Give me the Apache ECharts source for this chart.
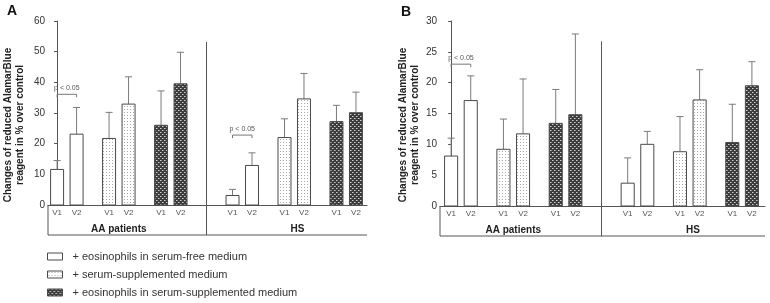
<!DOCTYPE html>
<html>
<head>
<meta charset="utf-8">
<script src="https://cdn.jsdelivr.net/npm/echarts@6/dist/echarts.min.js"></script>
<style>
  html, body { margin: 0; padding: 0; background: #fff; }
  #chart { width: 770px; height: 303px; }
</style>
</head>
<body>
<div id="chart"></div>
<script>
var treatments = [
  '+ eosinophils in serum-free medium',
  '+ serum-supplemented medium',
  '+ eosinophils in serum-supplemented medium'
];
var groups = ['AA patients', 'HS'];
var visits = ['V1', 'V2'];

// order of every array below: AA V1, AA V2, HS V1, HS V2
var meanA_free = [11.6, 23.1, 3.1, 12.9];
var errA_free = [2.9, 8.7, 2.0, 4.1];
var meanA_serum = [21.7, 32.9, 22.0, 34.6];
var errA_serum = [8.5, 8.9, 6.1, 8.3];
var meanA_eosSerum = [26.0, 39.5, 27.2, 30.1];
var errA_eosSerum = [11.2, 10.3, 5.3, 6.7];

var meanB_free = [8.1, 17.1, 3.7, 10.0];
var errB_free = [2.9, 4.0, 4.1, 2.1];
var meanB_serum = [9.2, 11.7, 8.8, 17.2];
var errB_serum = [4.9, 8.9, 5.7, 4.9];
var meanB_eosSerum = [13.4, 14.8, 10.3, 19.5];
var errB_eosSerum = [5.5, 13.1, 6.2, 3.9];

// "p < 0.05" brackets: [group index, height]
var pBracketsA = [[0, 36.1], [1, 22.8]];
var pBracketsB = [[0, 23.0]];

var yTicksA = { min: 0, max: 60, interval: 10 };
var yTicksB = { min: 0, max: 30, interval: 5 };

var FONT = 'Liberation Sans';
var dom = document.getElementById('chart');
var chart = echarts.init(dom, null, { renderer: 'canvas' });

function makePattern(kind) {
  var c = document.createElement('canvas');
  var ctx;
  if (kind === 'dots') {
    c.width = 3; c.height = 3;
    ctx = c.getContext('2d');
    ctx.fillStyle = '#ffffff'; ctx.fillRect(0, 0, 3, 3);
    ctx.fillStyle = '#a8a8a8'; ctx.fillRect(1, 1, 1, 1);
  } else {
    c.width = 4; c.height = 4;
    ctx = c.getContext('2d');
    ctx.fillStyle = '#3c3c3c'; ctx.fillRect(0, 0, 4, 4);
    ctx.fillStyle = '#d0d0d0';
    ctx.fillRect(0, 0, 1, 1); ctx.fillRect(2, 2, 1, 1);
    ctx.fillStyle = '#888888';
    ctx.fillRect(1, 0, 1, 1); ctx.fillRect(3, 2, 1, 1);
  }
  return { image: c, repeat: 'repeat' };
}

var fills = ['#ffffff', makePattern('dots'), makePattern('check')];

// slot on the hidden x scale: group, treatment, visit
function slotPos(t, k) {
  var g = Math.floor(k / 2), v = k % 2;
  return g * 27 + t * 8 + v * 3;
}

function barRenderer(fill) {
  return function (params, api) {
    var x = api.value(0), m = api.value(1), e = api.value(2);
    var base = api.coord([x, 0]);
    var top = api.coord([x, m]);
    var cap = api.coord([x, m + e]);
    var w = api.size([2, 0])[0];
    return {
      type: 'group',
      children: [
        { type: 'line', shape: { x1: top[0], y1: top[1], x2: cap[0], y2: cap[1] },
          style: { stroke: '#7a7a7a', lineWidth: 1 } },
        { type: 'line', shape: { x1: cap[0] - 3.5, y1: cap[1], x2: cap[0] + 3.5, y2: cap[1] },
          style: { stroke: '#7a7a7a', lineWidth: 1 } },
        { type: 'rect', shape: { x: base[0] - w / 2, y: top[1], width: w, height: base[1] - top[1] },
          style: { fill: fill, stroke: '#4a4a4a', lineWidth: 1 } },
        { type: 'text', style: { text: visits[params.dataIndex % 2], x: base[0], y: base[1] + 8,
          align: 'center', verticalAlign: 'middle', fontSize: 8, fontFamily: FONT, fill: '#555' } }
      ]
    };
  };
}

function frameRenderer(params, api) {
  var cs = params.coordSys;
  var zero = api.coord([0, 0])[1];
  var bottom = zero + 30;
  var sep = api.coord([api.value(0), api.value(1)]);
  var children = [
    { type: 'line', shape: { x1: sep[0], y1: sep[1], x2: sep[0], y2: bottom }, style: { stroke: '#555', lineWidth: 1 } },
    { type: 'line', shape: { x1: cs.x, y1: bottom, x2: cs.x + cs.width, y2: bottom }, style: { stroke: '#555', lineWidth: 1 } },
    { type: 'line', shape: { x1: cs.x, y1: zero, x2: cs.x, y2: bottom }, style: { stroke: '#555', lineWidth: 1 } }
  ];
  groups.forEach(function (g, i) {
    var cx = api.coord([i * 27 + (i === 0 ? 9.5 : 10), 0])[0];
    children.push({ type: 'text', style: { text: g, x: cx, y: zero + 24, align: 'center', verticalAlign: 'middle',
      fontSize: 10, fontWeight: 'bold', fontFamily: FONT, fill: '#222' } });
  });
  return { type: 'group', children: children };
}

function pRenderer(params, api) {
  var gi = api.value(0), h = api.value(1);
  var l = api.coord([gi * 27, h]);
  var r = api.coord([gi * 27 + 3, h]);
  var st = { stroke: '#777', lineWidth: 1 };
  return {
    type: 'group',
    children: [
      { type: 'line', shape: { x1: l[0], y1: l[1], x2: r[0], y2: r[1] }, style: st },
      { type: 'line', shape: { x1: l[0], y1: l[1], x2: l[0], y2: l[1] + 3 }, style: st },
      { type: 'line', shape: { x1: r[0], y1: r[1], x2: r[0], y2: r[1] + 3 }, style: st },
      { type: 'text', style: { text: 'p < 0.05', x: (l[0] + r[0]) / 2, y: l[1] - 6, align: 'center',
        verticalAlign: 'middle', fontSize: 7, fontFamily: FONT, fill: '#555' } }
    ]
  };
}

function barData(means, errs, t) {
  return means.map(function (m, k) { return [slotPos(t, k), m, errs[k]]; });
}

var panels = [
  { means: [meanA_free, meanA_serum, meanA_eosSerum], errs: [errA_free, errA_serum, errA_eosSerum],
    p: pBracketsA, sepTop: 53.2 },
  { means: [meanB_free, meanB_serum, meanB_eosSerum], errs: [errB_free, errB_serum, errB_eosSerum],
    p: pBracketsB, sepTop: 26.7 }
];

var series = [];
panels.forEach(function (pn, gi) {
  treatments.forEach(function (name, t) {
    series.push({
      name: name, type: 'custom', xAxisIndex: gi, yAxisIndex: gi,
      itemStyle: { color: fills[t], borderColor: '#4a4a4a', borderWidth: 1 },
      renderItem: barRenderer(fills[t]),
      data: barData(pn.means[t], pn.errs[t], t)
    });
  });
  series.push({ type: 'custom', xAxisIndex: gi, yAxisIndex: gi, silent: true,
    renderItem: frameRenderer, data: [[23, pn.sepTop]] });
  series.push({ type: 'custom', xAxisIndex: gi, yAxisIndex: gi, silent: true,
    renderItem: pRenderer, data: pn.p });
});

function yAxisOf(gi, ticks) {
  return {
    gridIndex: gi, type: 'value', min: ticks.min, max: ticks.max, interval: ticks.interval,
    axisLine: { show: true, lineStyle: { color: '#555' } },
    axisTick: { show: true, length: 3, lineStyle: { color: '#555' } },
    axisLabel: { fontSize: 10, color: '#333', margin: 3, fontFamily: FONT },
    splitLine: { show: false }
  };
}

function xAxisOf(gi, min, max) {
  return {
    gridIndex: gi, type: 'value', min: min, max: max,
    axisLine: { show: true, onZero: false, lineStyle: { color: '#555' } },
    axisTick: { show: false }, axisLabel: { show: false }, splitLine: { show: false }
  };
}

var titleText = 'Changes of reduced AlamarBlue\nreagent in % over control';

var option = {
  animation: false,
  grid: [
    { left: 48, right: 403, top: 21, bottom: 98 },
    { left: 440, right: 5, top: 21, bottom: 97 }
  ],
  xAxis: [xAxisOf(0, -1.4, 47.7), xAxisOf(1, -1.7, 48.0)],
  yAxis: [yAxisOf(0, yTicksA), yAxisOf(1, yTicksB)],
  legend: {
    orient: 'vertical', left: 42, top: 246, itemWidth: 15, itemHeight: 7, itemGap: 7,
    icon: 'rect', selectedMode: false,
    textStyle: { fontSize: 11, color: '#333', fontFamily: FONT, padding: [0, 0, 0, 5] },
    data: treatments.map(function (name, t) {
      return { name: name, icon: 'rect',
        itemStyle: { color: fills[t], borderColor: '#4a4a4a', borderWidth: 1 } };
    })
  },
  graphic: [
    { type: 'text', left: 7, top: 4, style: { text: 'A', fontSize: 14, fontWeight: 'bold', fontFamily: FONT, fill: '#111' } },
    { type: 'text', left: 401, top: 5, style: { text: 'B', fontSize: 14, fontWeight: 'bold', fontFamily: FONT, fill: '#111' } },
    { type: 'text', x: 14.5, y: 125, rotation: Math.PI / 2,
      style: { text: titleText, align: 'center', verticalAlign: 'middle', fontSize: 10, lineHeight: 12,
        fontWeight: 'bold', fontFamily: FONT, fill: '#222' } },
    { type: 'text', x: 409, y: 125, rotation: Math.PI / 2,
      style: { text: titleText, align: 'center', verticalAlign: 'middle', fontSize: 10, lineHeight: 12,
        fontWeight: 'bold', fontFamily: FONT, fill: '#222' } }
  ],
  series: series
};

chart.setOption(option);
window.addEventListener('resize', chart.resize);
</script>
</body>
</html>
